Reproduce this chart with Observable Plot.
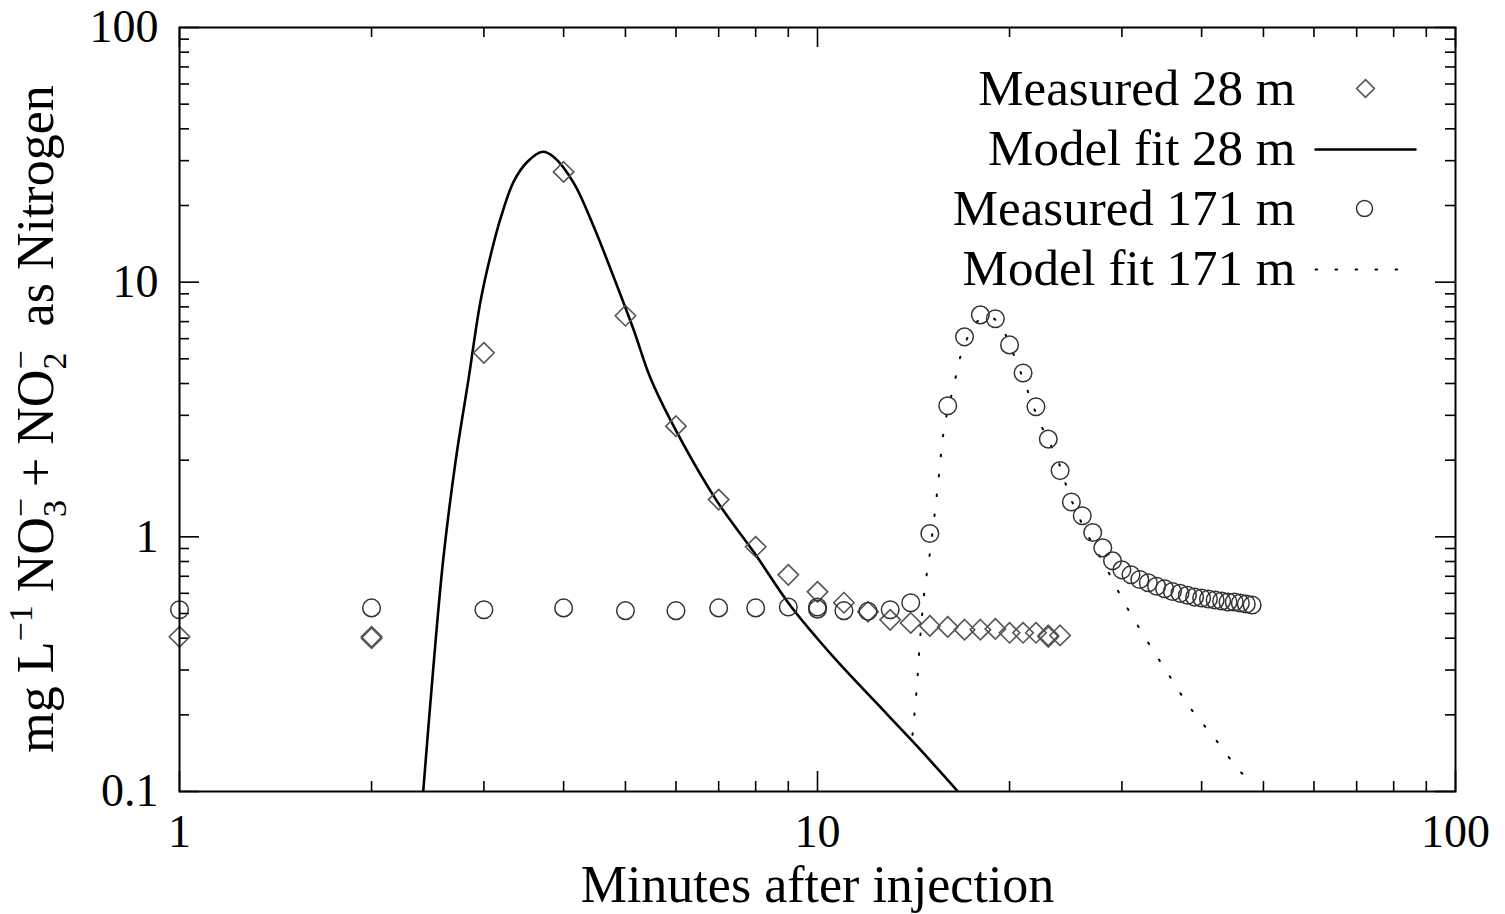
<!DOCTYPE html>
<html><head><meta charset="utf-8">
<script src="https://cdn.jsdelivr.net/npm/d3@7"></script>
<script src="https://cdn.jsdelivr.net/npm/@observablehq/plot@0.6"></script>
<style>body{margin:0;background:#fff} svg{display:block}</style>
</head><body><div id="chart"></div>
<script>
// ---- data ----
const meas28Min = [1, 2, 2, 3, 4, 5, 6, 7, 8, 9, 10, 11, 12, 13, 14, 15, 16, 17, 18, 19, 20, 21, 22, 23, 23, 24];
const meas28Val = [0.405, 0.40, 0.405, 5.28, 27.1, 7.38, 2.72, 1.40, 0.914, 0.709, 0.608, 0.551, 0.508, 0.472, 0.459, 0.447, 0.443, 0.432, 0.432, 0.435, 0.42, 0.42, 0.42, 0.405, 0.41, 0.41];

const meas171Min = [1, 2, 3, 4, 5, 6, 7, 8, 9, 10, 10, 11, 12, 13, 14, 15, 16, 17, 18, 19, 20, 21, 22, 23, 24, 25, 26, 27, 28, 29, 30, 31, 32, 33, 34, 35, 36, 37, 38, 39, 40, 41, 42, 43, 44, 45, 46, 47, 48];
const meas171Val = [0.517, 0.526, 0.517, 0.526, 0.513, 0.513, 0.526, 0.526, 0.53, 0.52, 0.53, 0.513, 0.51, 0.517, 0.551, 1.03, 3.27, 6.1, 7.44, 7.18, 5.67, 4.4, 3.24, 2.42, 1.82, 1.37, 1.21, 1.04, 0.905, 0.805, 0.742, 0.71, 0.68, 0.66, 0.64, 0.625, 0.61, 0.60, 0.59, 0.58, 0.575, 0.57, 0.565, 0.56, 0.555, 0.555, 0.55, 0.545, 0.54];

const fit28Min = [2.41, 2.49, 2.59, 2.71, 2.84, 2.96, 3.07, 3.19, 3.34, 3.51, 3.71, 3.86, 4.15, 4.46, 4.79, 5.15, 5.47, 5.88, 6.92, 7.94, 9.07, 10.0, 10.87, 12.88, 14.35, 16.6];
const fit28Val = [0.1, 0.274, 0.812, 2.0, 4.21, 8.29, 12.6, 18.0, 24.8, 29.7, 32.5, 31.0, 24.5, 16.5, 10.5, 6.50, 4.21, 2.88, 1.41, 0.873, 0.536, 0.398, 0.314, 0.20, 0.150, 0.1];

const fit171Min = [14.09, 14.30, 14.50, 14.72, 15.04, 15.42, 15.82, 16.34, 16.94, 17.9, 18.6, 19.4, 20.07, 21.18, 22.28, 23.78, 24.93, 26.50, 28.28, 30.39, 32.79, 35.38, 38.29, 41.9, 45.7, 47.9];
const fit171Val = [0.167, 0.251, 0.412, 0.619, 0.905, 1.54, 2.73, 3.88, 5.57, 7.1, 7.35, 6.7, 5.57, 3.95, 2.83, 2.01, 1.42, 1.02, 0.763, 0.541, 0.394, 0.292, 0.215, 0.162, 0.122, 0.108];

const xMajorTicks = [1, 10, 100];
const xTickLabels = ["1", "10", "100"];
const xMinorTicks = [2, 3, 4, 5, 6, 7, 8, 9, 20, 30, 40, 50, 60, 70, 80, 90];
const yMajorTicks = [0.1, 1, 10, 100];
const yTickLabels = ["0.1", "1", "10", "100"];
const yMinorTicks = [0.2, 0.3, 0.4, 0.5, 0.6, 0.7, 0.8, 0.9, 2, 3, 4, 5, 6, 7, 8, 9, 20, 30, 40, 50, 60, 70, 80, 90];
const legendLabels = ["Measured 28 m", "Model fit 28 m", "Measured 171 m", "Model fit 171 m"];
const xTitle = "Minutes after injection";

// ---- build tables ----
const meas28 = meas28Min.map((t, i) => ({t, v: meas28Val[i]}));
const meas171 = meas171Min.map((t, i) => ({t, v: meas171Val[i]}));
const fit28 = fit28Min.map((t, i) => ({t, v: fit28Val[i]}));
const fit171 = fit171Min.map((t, i) => ({t, v: fit171Val[i]}));

// ---- layout / style ----
const W = 1505, H = 914, ML = 179, MR = 50, MT = 27, MB = 123;
const FW = W - ML - MR, FH = H - MT - MB;
const FONT = "Liberation Serif";
const MAJ = 20, MIN = 10;
const DIAMOND_STROKE = "#555", CIRCLE_STROKE = "#333";
const DOTTED = "1.6 18.4";
const hline = {draw(context, l) { context.moveTo(0, 0); context.lineTo(0, -l); }};

const tickStyle = {stroke: "black", strokeWidth: 1.6};
const marks = [
  // inward ticks, all four sides
  Plot.tickX(xMajorTicks, {x: d => d, insetTop: FH - MAJ, ...tickStyle}),
  Plot.tickX(xMajorTicks, {x: d => d, insetBottom: FH - MAJ, ...tickStyle}),
  Plot.tickX(xMinorTicks, {x: d => d, insetTop: FH - MIN, ...tickStyle}),
  Plot.tickX(xMinorTicks, {x: d => d, insetBottom: FH - MIN, ...tickStyle}),
  Plot.tickY(yMajorTicks, {y: d => d, insetRight: FW - MAJ, ...tickStyle}),
  Plot.tickY(yMajorTicks, {y: d => d, insetLeft: FW - MAJ, ...tickStyle}),
  Plot.tickY(yMinorTicks, {y: d => d, insetRight: FW - MIN, ...tickStyle}),
  Plot.tickY(yMinorTicks, {y: d => d, insetLeft: FW - MIN, ...tickStyle}),
  // tick labels
  Plot.axisX({ticks: xMajorTicks, tickFormat: d => xTickLabels[xMajorTicks.indexOf(d)], tickSize: 0, tickPadding: 23, fontSize: 46, label: null}),
  Plot.axisY({ticks: yMajorTicks, tickFormat: d => yTickLabels[yMajorTicks.indexOf(d)], tickSize: 0, tickPadding: 21, fontSize: 46, label: null}),
  // data
  Plot.line(fit28, {x: "t", y: "v", stroke: "black", strokeWidth: 2.6, curve: "catmull-rom", clip: true}),
  Plot.line(fit171, {x: "t", y: "v", stroke: "black", strokeWidth: 2, strokeDasharray: DOTTED, curve: "catmull-rom", clip: true}),
  Plot.dot(meas28, {x: "t", y: "v", symbol: "diamond2", r: 9.2, stroke: DIAMOND_STROKE, strokeWidth: 1.6, fill: "none"}),
  Plot.dot(meas171, {x: "t", y: "v", symbol: "circle", r: 8.8, stroke: CIRCLE_STROKE, strokeWidth: 1.5, fill: "none"}),
  // x title
  Plot.text([xTitle], {frameAnchor: "bottom", dy: 94, fontSize: 52, lineAnchor: "middle", fill: "black"}),
  // frame
  Plot.frame({stroke: "black", strokeWidth: 2}),
];

// legend (inside top-right of frame)
legendLabels.forEach((lab, i) => {
  const dy = 61 + i * 60;
  marks.push(Plot.text([lab], {frameAnchor: "top-right", dx: -160, dy, textAnchor: "end", lineAnchor: "middle", fontSize: 51, fill: "black"}));
});
marks.push(Plot.dot([0], {frameAnchor: "top-right", dx: -90, dy: 61, symbol: "diamond2", r: 8, stroke: DIAMOND_STROKE, strokeWidth: 1.6, fill: "none"}));
marks.push(Plot.vector([0], {frameAnchor: "top-right", dx: -90, dy: 122, length: 100, rotate: 90, anchor: "middle", shape: hline, stroke: "black", strokeWidth: 2.4}));
marks.push(Plot.dot([0], {frameAnchor: "top-right", dx: -91, dy: 181, symbol: "circle", r: 8, stroke: CIRCLE_STROKE, strokeWidth: 1.5, fill: "none"}));
marks.push(Plot.vector([0], {frameAnchor: "top-right", dx: -97, dy: 242, length: 86, rotate: 90, anchor: "middle", shape: hline, stroke: "black", strokeWidth: 2, strokeDasharray: DOTTED}));

const svg = Plot.plot({
  width: W, height: H,
  marginLeft: ML, marginRight: MR, marginTop: MT, marginBottom: MB,
  x: {type: "log", domain: [1, 100]},
  y: {type: "log", domain: [0.1, 100]},
  style: {fontFamily: FONT, background: "white", color: "black"},
  marks
});
document.getElementById("chart").appendChild(svg);

// y-axis title with super/subscripts
const yl = d3.select(svg).append("text")
  .attr("transform", "translate(53,419) rotate(-90)")
  .attr("text-anchor", "middle")
  .attr("font-family", FONT)
  .attr("font-size", 52)
  .attr("fill", "black")
  .style("white-space", "pre");
yl.append("tspan").text("mg L");
yl.append("tspan").attr("dy", -21).attr("font-size", 34).text("\u22121");
yl.append("tspan").attr("dy", 21).text(" NO");
yl.append("tspan").attr("dy", -21).attr("font-size", 34).text("\u2212");
yl.append("tspan").attr("dx", -19).attr("dy", 34).attr("font-size", 34).text("3");
yl.append("tspan").attr("dy", -13).text(" + NO");
yl.append("tspan").attr("dy", -21).attr("font-size", 34).text("\u2212");
yl.append("tspan").attr("dx", -19).attr("dy", 34).attr("font-size", 34).text("2");
yl.append("tspan").attr("dy", -13).text("  as Nitrogen");
</script>
</body></html>
